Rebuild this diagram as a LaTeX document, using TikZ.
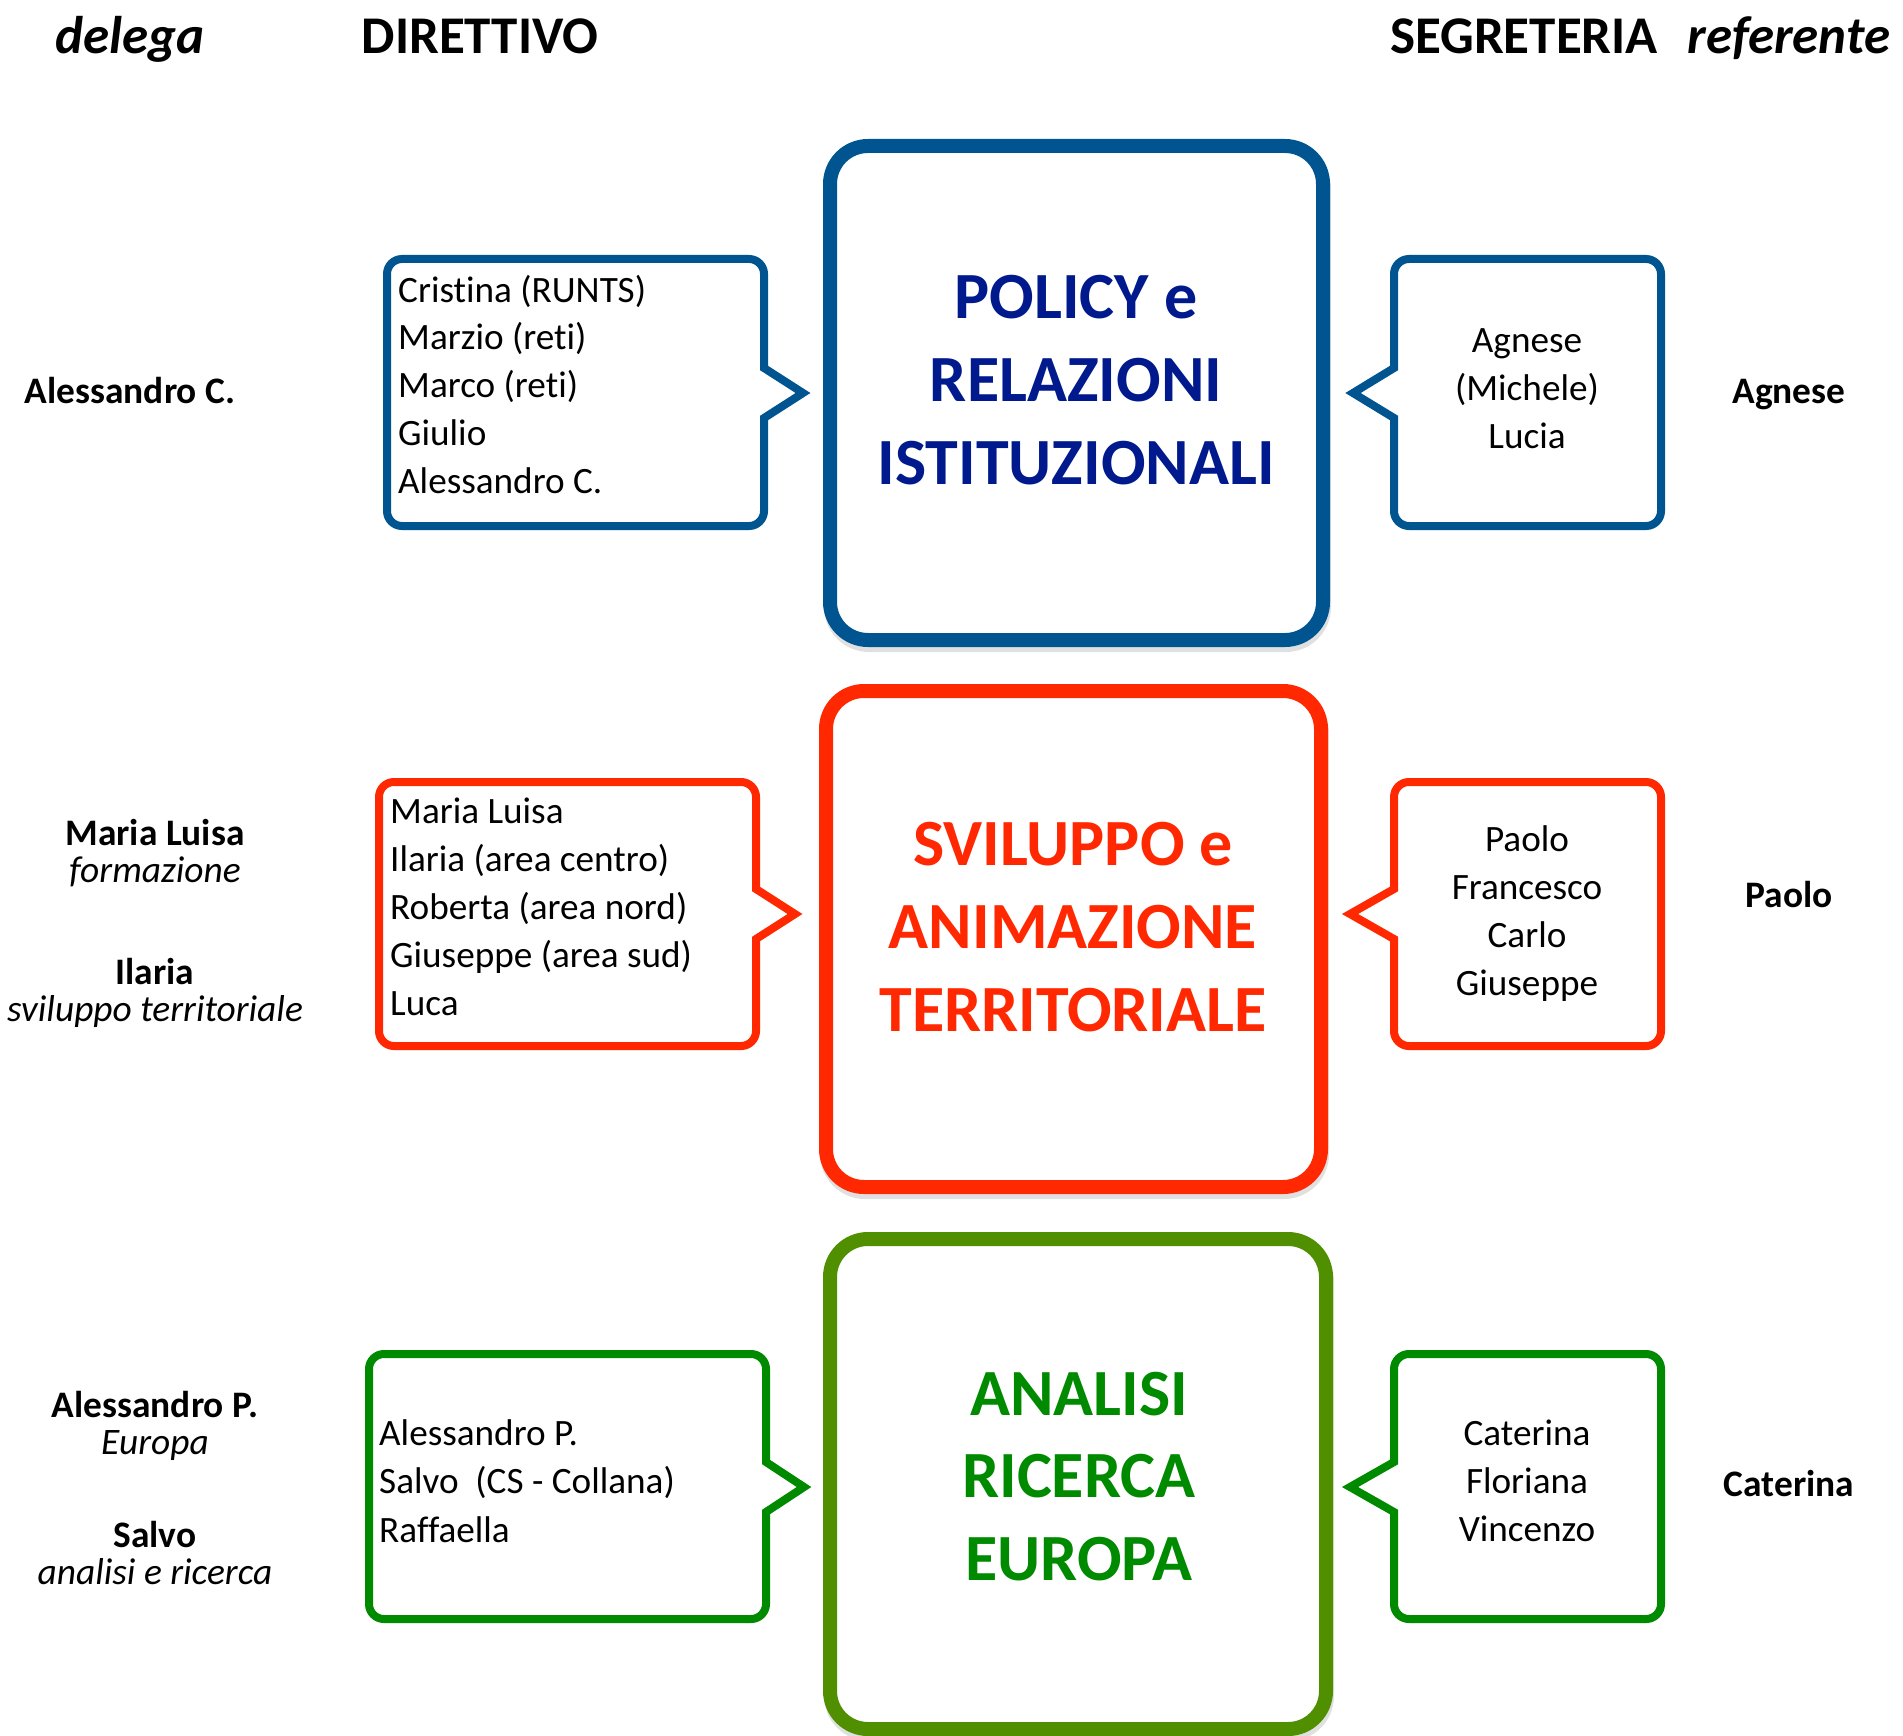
\documentclass[tikz,border=0pt]{standalone}
\usepackage{fontspec}
\setmainfont{Carlito}[Ligatures=NoCommon]
\definecolor{bline}{RGB}{0,85,145}
\definecolor{btext}{RGB}{0,25,140}
\definecolor{rline}{RGB}{255,40,0}
\definecolor{gline}{RGB}{0,138,0}
\definecolor{gbig}{RGB}{79,143,0}
\definecolor{gtext}{RGB}{0,138,0}
% #1 colour, #2 L, #3 R, #4 T, #5 B, #6 notch top, #7 notch bottom, #8 tip x
\newcommand\calloutright[8]{%
  \draw[callout, draw=#1] (#8,{(#6+#7)/2}) -- (#3,#7) -- (#3,{(#7+#5)/2})
    [rounded corners=15pt] -- (#3,#5) -- (#2,#5) -- (#2,#4) -- (#3,#4) -- (#3,{(#4+#6)/2})
    [sharp corners] -- (#3,#6) -- cycle;}
\newcommand\calloutleft[8]{%
  \draw[callout, draw=#1] (#8,{(#6+#7)/2}) -- (#2,#7) -- (#2,{(#7+#5)/2})
    [rounded corners=15pt] -- (#2,#5) -- (#3,#5) -- (#3,#4) -- (#2,#4) -- (#2,{(#4+#6)/2})
    [sharp corners] -- (#2,#6) -- cycle;}
\begin{document}
\begin{tikzpicture}[x=1pt,y=-1pt,
  bigbox/.style={line width=14pt, rounded corners=38pt, fill=white, inner sep=0,
    preaction={draw=black, draw opacity=0.12, transform canvas={xshift=1pt,yshift=-5pt}}},
  callout/.style={line width=8pt, fill=white, line join=miter,
    preaction={draw=black, draw opacity=0.12, transform canvas={xshift=1pt,yshift=-4pt}}},
  header/.style={font=\fontsize{53}{60}\selectfont\bfseries, anchor=base, inner sep=0},
  bigtext/.style={font=\fontsize{66}{80}\selectfont\bfseries, anchor=base, inner sep=0},
  ltext/.style={font=\fontsize{37.2}{48}\selectfont, anchor=base west, inner sep=0},
  ctext/.style={font=\fontsize{37.2}{48}\selectfont, anchor=base, inner sep=0},
  sidebold/.style={font=\fontsize{37.4}{40}\selectfont\bfseries, anchor=base, inner sep=0},
  sideital/.style={font=\fontsize{37.4}{40}\selectfont\itshape, anchor=base, inner sep=0}]
\path[use as bounding box] (0,0) rectangle (1903,1736);

% headers
\node[header, font=\fontsize{53}{60}\selectfont\bfseries\itshape] (hdel) at (130,54) {delega};
\node[header] (hdir) at (480,54) {DIRETTIVO};
\node[header] (hseg) at (1524,54) {SEGRETERIA};
\node[header, font=\fontsize{53}{60}\selectfont\bfseries\itshape] (href) at (1789,54) {referente};

% big boxes
\node[bigbox, draw=bline, minimum width=493pt, minimum height=494pt] (pol) at (1076.5,393) {};
\node[bigbox, draw=rline, minimum width=495pt, minimum height=496pt] (svi) at (1073.5,939) {};
\node[bigbox, draw=gbig, minimum width=496pt, minimum height=490pt] (ana) at (1078,1484) {};

\foreach \t [count=\i] in {POLICY e, RELAZIONI, ISTITUZIONALI}
  \node[bigtext, text=btext] (pol-\i) at (1076,{318+(\i-1)*83}) {\t};
\foreach \t [count=\i] in {SVILUPPO e, ANIMAZIONE, TERRITORIALE}
  \node[bigtext, text=rline] (svi-\i) at (1073,{865+(\i-1)*83}) {\t};
\foreach \t [count=\i] in {ANALISI, RICERCA, EUROPA}
  \node[bigtext, text=gtext] (ana-\i) at (1079,{1415+(\i-1)*82.5}) {\t};

% callouts (direttivo, left)
\calloutright{bline}{387}{764}{259}{526}{368}{418}{803}
\calloutright{rline}{379}{756}{782}{1046}{889}{939}{795}
\calloutright{gline}{369}{766}{1354}{1619}{1462}{1512}{804}
% callouts (segreteria, right)
\calloutleft{bline}{1394}{1661}{259}{526}{368}{418}{1353}
\calloutleft{rline}{1394}{1661}{782}{1046}{889}{939}{1350}
\calloutleft{gline}{1394}{1661}{1354}{1619}{1462}{1512}{1350}

\foreach \t [count=\i] in {Cristina (RUNTS), Marzio (reti), Marco (reti), Giulio, Alessandro C.}
  \node[ltext] (dp-\i) at (398,{302+(\i-1)*47.75}) {\t};
\foreach \t [count=\i] in {Maria Luisa, Ilaria (area centro), Roberta (area nord), Giuseppe (area sud), Luca}
  \node[ltext] (ds-\i) at (390,{823+(\i-1)*48}) {\t};
\foreach \t [count=\i] in {Alessandro P., Salvo\ \ (CS - Collana), Raffaella}
  \node[ltext] (da-\i) at (379,{1445+(\i-1)*48.5}) {\t};

\foreach \t [count=\i] in {Agnese, {(Michele)}, Lucia}
  \node[ctext] (sp-\i) at (1527,{352+(\i-1)*48}) {\t};
\foreach \t [count=\i] in {Paolo, Francesco, Carlo, Giuseppe}
  \node[ctext] (ss-\i) at (1527,{851+(\i-1)*48}) {\t};
\foreach \t [count=\i] in {Caterina, Floriana, Vincenzo}
  \node[ctext] (sa-\i) at (1527,{1445+(\i-1)*48}) {\t};

% delega (left)
\node[sidebold] (dl1) at (130,403) {Alessandro C.};
\node[sidebold] (dl2) at (155,845) {Maria Luisa};
\node[sideital] (dl2b) at (155,882) {formazione};
\node[sidebold] (dl3) at (155,984) {Ilaria};
\node[sideital] (dl3b) at (155,1021) {sviluppo territoriale};
\node[sidebold] (dl4) at (155,1417) {Alessandro P.};
\node[sideital] (dl4b) at (155,1454) {Europa};
\node[sidebold] (dl5) at (155,1547) {Salvo};
\node[sideital] (dl5b) at (155,1584) {analisi e ricerca};

% referente (right)
\node[sidebold] (rf1) at (1789,403) {Agnese};
\node[sidebold] (rf2) at (1789,907) {Paolo};
\node[sidebold] (rf3) at (1789,1496) {Caterina};
\end{tikzpicture}
\end{document}
